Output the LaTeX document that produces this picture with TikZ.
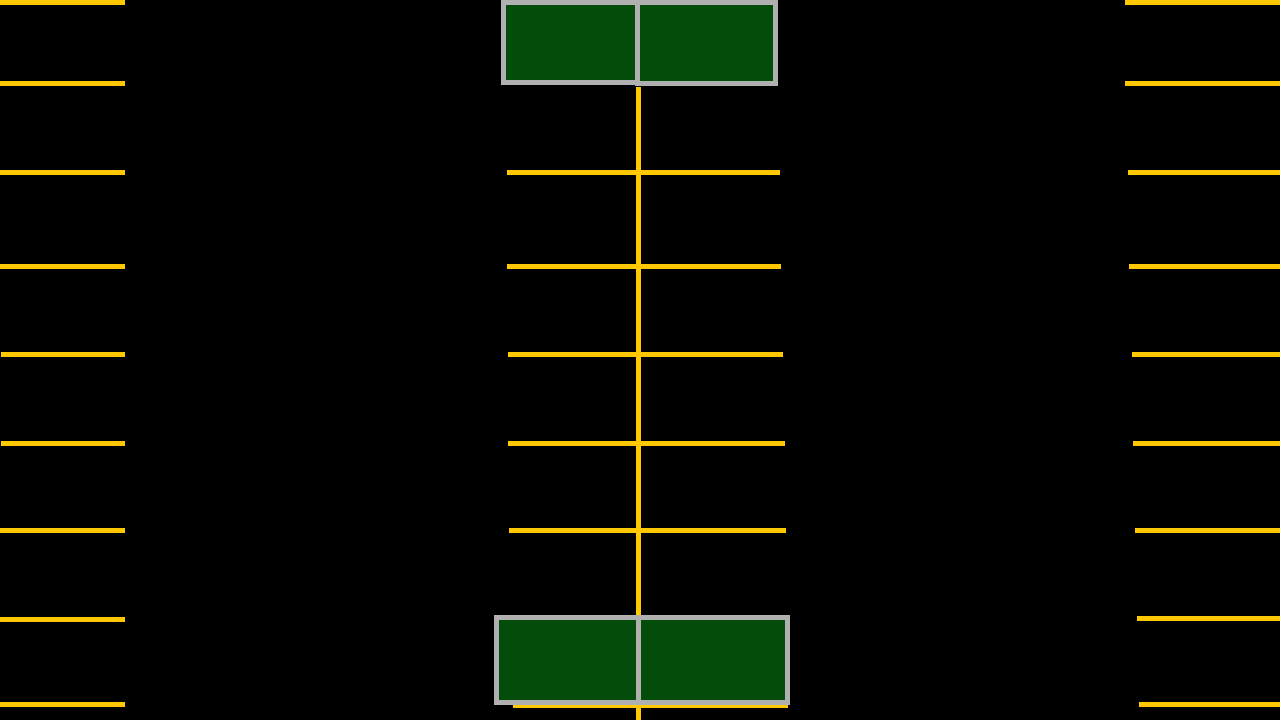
\documentclass[tikz,border=0pt]{standalone}
\definecolor{lotblack}{HTML}{000000}
\definecolor{stripeyellow}{HTML}{FFC800}
\definecolor{curbgray}{HTML}{B0B0B0}
\definecolor{islandgreen}{HTML}{044C0A}
\usepackage{tikz}
\usetikzlibrary{positioning}

\begin{document}
\begin{tikzpicture}[x=1pt, y=-1pt,
    stripe/.style={stripeyellow, line width=5pt},
    curb/.style={curbgray, line width=5pt, fill=islandgreen}]
        % Asphalt (lotblack)
        \useasboundingbox (0, 0) rectangle (1280, 720);
        \fill[lotblack] (0, 0) rectangle (1280, 720);
        % Left row of stalls
        \draw[stripe] (0, 2.5)   -- (125, 2.5);
        \draw[stripe] (0, 83.5)  -- (125, 83.5);
        \draw[stripe] (0, 172.5) -- (125, 172.5);
        \draw[stripe] (0, 266)   -- (125, 266);
        \draw[stripe] (1, 354.5) -- (125, 354.5);
        \draw[stripe] (1, 443.5) -- (125, 443.5);
        \draw[stripe] (0, 530.5) -- (125, 530.5);
        \draw[stripe] (0, 619)   -- (125, 619);
        \draw[stripe] (0, 704.5) -- (125, 704.5);
        % Right row of stalls
        \draw[stripe] (1125, 2)     -- (1280, 2);
        \draw[stripe] (1125, 83.5)  -- (1280, 83.5);
        \draw[stripe] (1128, 172.5) -- (1280, 172.5);
        \draw[stripe] (1129, 266)   -- (1280, 266);
        \draw[stripe] (1132, 354.5) -- (1280, 354.5);
        \draw[stripe] (1133, 443.5) -- (1280, 443.5);
        \draw[stripe] (1135, 530)   -- (1280, 530);
        \draw[stripe] (1137, 618.5) -- (1280, 618.5);
        \draw[stripe] (1139, 704.5) -- (1280, 704.5);
        % Centre double row: divider line
        \draw[stripe] (638.5, 87) -- (638.5, 720);
        % Centre double row: stall lines
        \draw[stripe] (507, 172.5) -- (780, 172.5);
        \draw[stripe] (507, 266)   -- (781, 266);
        \draw[stripe] (508, 354.5) -- (783, 354.5);
        \draw[stripe] (508, 443.5) -- (785, 443.5);
        \draw[stripe] (509, 530)   -- (786, 530);
        \draw[stripe] (513, 619)   -- (787, 619);
        \draw[stripe] (513, 705)   -- (788, 705);
        % Top island (islandgreen)
        \draw[curb] (503, 2.5)   rectangle (637.5, 82);
        \draw[curb] (637.5, 2.5) rectangle (775, 83.5);
        % Bottom island (islandgreen)
        \draw[curb] (496.5, 617.5) rectangle (638.5, 702.5);
        \draw[curb] (638.5, 617.5) rectangle (787.5, 702.5);
      \end{tikzpicture}
\end{document}
